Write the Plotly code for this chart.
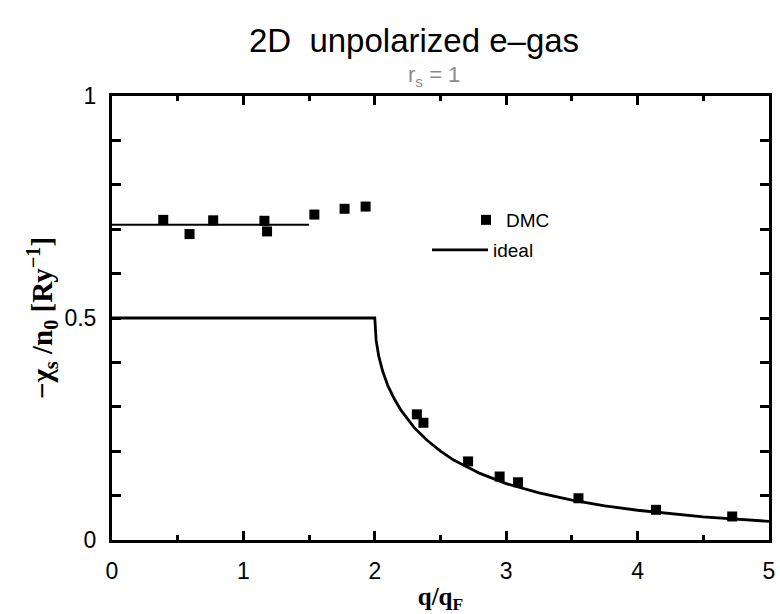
import plotly.graph_objects as go

# ---- data ----
dmc_q = [0.39, 0.59, 0.77, 1.16, 1.18, 1.54, 1.77, 1.93,
         2.32, 2.37, 2.71, 2.95, 3.09, 3.55, 4.14, 4.72]
dmc_chi = [0.721, 0.689, 0.720, 0.719, 0.695, 0.733, 0.746, 0.751,
           0.283, 0.264, 0.177, 0.143, 0.130, 0.094, 0.068, 0.053]

ideal_q = [0.0, 2.0, 2.01, 2.03, 2.06, 2.1, 2.15, 2.2, 2.3, 2.4, 2.5,
           2.6, 2.8, 3.0, 3.25, 3.5, 3.75, 4.0, 4.5, 5.0]
ideal_chi = [0.5, 0.5, 0.450, 0.414, 0.380, 0.347, 0.317, 0.292, 0.253,
             0.224, 0.200, 0.180, 0.150, 0.127, 0.106, 0.090, 0.077,
             0.067, 0.052, 0.042]

avg_q = [0.0, 1.5]
avg_chi = [0.71, 0.71]

x_ticks = [0, 1, 2, 3, 4, 5]
y_ticks = [0, 0.5, 1]
y_ticklabels = ["0", "0.5", "1"]

W, H = 780, 614
L, R, T, B = 112, 11, 96, 74
PW, PH = W - L - R, H - T - B

fig = go.Figure()

fig.add_trace(go.Scatter(
    x=avg_q, y=avg_chi, mode="lines", showlegend=False,
    line=dict(color="black", width=2), hoverinfo="skip"))

fig.add_trace(go.Scatter(
    x=ideal_q, y=ideal_chi, mode="lines", name="ideal",
    line=dict(color="black", width=2.8), legend="legend2"))

fig.add_trace(go.Scatter(
    x=dmc_q, y=dmc_chi, mode="markers", name="DMC",
    marker=dict(symbol="square", size=10, color="black"),
    legend="legend"))

axis_common = dict(
    showline=True, linecolor="black", linewidth=3, mirror="ticks",
    ticks="inside", tickcolor="black", tickwidth=2.5,
    showgrid=False, zeroline=False, automargin=False,
    tickfont=dict(family="Liberation Sans, Arial, sans-serif", size=23, color="black"),
)

fig.update_xaxes(
    range=[0, 5], tickvals=x_ticks, ticklen=9,
    minor=dict(dtick=0.5, ticks="inside", ticklen=5, tickcolor="black", tickwidth=2.5),
    ticklabelstandoff=8,
    title=dict(text="<b>q/q<sub>F</sub></b>", standoff=10,
               font=dict(family="Liberation Serif, Times New Roman, serif", size=25, color="black")),
    **axis_common)

fig.update_yaxes(
    range=[0, 1], tickvals=y_ticks, ticktext=y_ticklabels, ticklen=9,
    minor=dict(dtick=0.1, ticks="inside", ticklen=9, tickcolor="black", tickwidth=2.5),
    ticklabelstandoff=8,
    title=dict(text="<b>−χ<sub>s</sub> /n<sub>0</sub> [Ry<sup>−1</sup>]</b>", standoff=4,
               font=dict(family="Liberation Serif, Times New Roman, serif", size=29, color="black")),
    **axis_common)

legend_font = dict(family="Liberation Sans, Arial, sans-serif", size=19, color="black")

fig.update_layout(
    width=W, height=H,
    margin=dict(l=L, r=R, t=T, b=B),
    paper_bgcolor="white", plot_bgcolor="white",
    title=dict(text="2D  unpolarized e–gas", xref="container", yref="container",
               x=414 / W, y=1 - 40 / H, xanchor="center", yanchor="middle",
               font=dict(family="Liberation Sans, Arial, sans-serif", size=33, color="black")),
    annotations=[dict(text="r<sub>s</sub> = 1", xref="paper", yref="paper",
                      x=(434 - L) / PW, y=1 + (T - 76) / PH,
                      xanchor="center", yanchor="middle", showarrow=False,
                      font=dict(family="Liberation Sans, Arial, sans-serif", size=22, color="#8c8c8c"))],
    legend=dict(x=(466 - L) / PW, y=1 - (220 - T) / PH,
                xanchor="left", yanchor="middle", bgcolor="rgba(0,0,0,0)",
                font=legend_font, itemwidth=30),
    legend2=dict(x=(427 - L) / PW, y=1 - (250 - T) / PH,
                 xanchor="left", yanchor="middle", bgcolor="rgba(0,0,0,0)",
                 font=legend_font, itemwidth=56),
    showlegend=True,
)

fig.write_html("out.html")
